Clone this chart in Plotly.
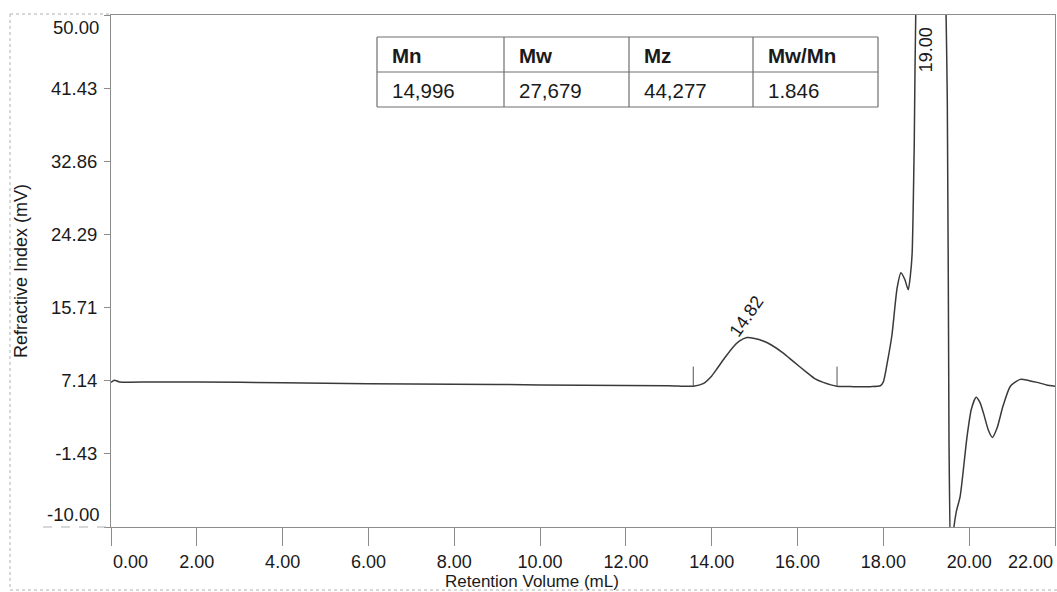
import plotly.graph_objects as go

# Refractive-index chromatogram (GPC) with molecular weight summary
ret_volume = [0.0, 0.08, 0.2, 1.0, 3.0, 5.0, 7.0, 9.0, 11.0, 13.0, 13.57,
              13.8, 14.0, 14.13, 14.3, 14.5, 14.65, 14.82, 15.0, 15.2, 15.4,
              15.66, 15.9, 16.22, 16.4, 16.6, 16.92, 17.3, 17.7, 17.93,
              18.0, 18.1, 18.2, 18.32, 18.41, 18.5, 18.58, 18.63, 18.67,
              18.72, 18.76, 18.85, 19.0, 19.25, 19.4, 19.49, 19.53, 19.57,
              19.62, 19.7, 19.79, 19.95, 20.05, 20.16, 20.25, 20.33, 20.45,
              20.54, 20.65, 20.79, 20.96, 21.19, 21.4, 21.58, 21.8, 22.0]
ri_signal = [6.95, 7.2, 7.0, 7.0, 6.95, 6.85, 6.75, 6.7, 6.6, 6.55, 6.5,
             6.8, 7.7, 8.6, 9.8, 11.1, 11.8, 12.2, 12.1, 11.8, 11.3,
             10.4, 9.4, 8.1, 7.4, 6.95, 6.5, 6.45, 6.45, 6.55,
             7.0, 9.5, 12.5, 18.0, 19.8, 19.0, 17.8, 19.5, 22.0,
             35.0, 52.0, 62.0, 70.0, 64.0, 60.0, 40.0, 0.0, -14.0,
             -11.0, -8.2, -6.4, 0.6, 3.8, 5.2, 4.6, 3.4, 1.3,
             0.5, 1.6, 4.2, 6.5, 7.3, 7.15, 6.95, 6.65, 6.5]

# Integration limits of the polymer peak
peak_bounds = [13.57, 16.92]
bound_base = [6.5, 6.5]

# Peak retention volumes shown as labels, with label heights
peak_labels = ["14.82", "19.00"]
peak_label_x = [14.82, 19.00]
peak_label_y = [14.7, 45.9]

# Molecular weight results table
table_headers = ["Mn", "Mw", "Mz", "Mw/Mn"]
table_values = ["14,996", "27,679", "44,277", "1.846"]

x_ticks = [0, 2, 4, 6, 8, 10, 12, 14, 16, 18, 20, 22]
y_ticks = [50.00, 41.43, 32.86, 24.29, 15.71, 7.14, -1.43, -10.00]

W, H = 1057, 592
L, R, T, B = 111, 1055, 15, 527
FONT = "Liberation Sans, Arial, sans-serif"
INK = "#1a1a1a"
GRID = "#8c8c8c"


def px(x):
    return (x - L) / (R - L)


def py(y):
    return (B - y) / (B - T)


fig = go.Figure()

fig.add_trace(go.Scatter(
    x=ret_volume, y=ri_signal, mode="lines",
    line=dict(color="#3a3a3a", width=1.5, shape="spline", smoothing=0.6),
    hoverinfo="skip", showlegend=False,
))

# Short vertical markers at the peak integration limits
for xb, yb in zip(peak_bounds, bound_base):
    fig.add_trace(go.Scatter(
        x=[xb, xb], y=[yb, yb + 2.3], mode="lines",
        line=dict(color="#555555", width=1),
        hoverinfo="skip", showlegend=False,
    ))

annotations = []

# Peak labels
annotations.append(dict(x=peak_label_x[0], y=peak_label_y[0], text=peak_labels[0],
                        textangle=-55, showarrow=False,
                        xanchor="center", yanchor="middle",
                        font=dict(family=FONT, size=18, color=INK)))
annotations.append(dict(x=peak_label_x[1], y=peak_label_y[1], text=peak_labels[1],
                        textangle=-90, showarrow=False,
                        xanchor="center", yanchor="middle",
                        font=dict(family=FONT, size=18, color=INK)))

# End tick labels kept inside the plot frame
annotations.append(dict(x=0, y=py(562), xref="x", yref="paper", text="0.00",
                        xanchor="left", yanchor="middle", showarrow=False,
                        font=dict(family=FONT, size=18, color=INK)))
annotations.append(dict(x=22, y=py(562), xref="x", yref="paper", text="22.00",
                        xanchor="right", yanchor="middle", showarrow=False,
                        font=dict(family=FONT, size=18, color=INK)))
annotations.append(dict(x=0, y=50, xref="paper", yref="y", text="50.00",
                        xanchor="right", yanchor="top", xshift=-10, showarrow=False,
                        font=dict(family=FONT, size=18.5, color=INK)))
annotations.append(dict(x=0, y=-10, xref="paper", yref="y", text="-10.00",
                        xanchor="right", yanchor="bottom", xshift=-10, showarrow=False,
                        font=dict(family=FONT, size=18.5, color=INK)))

# Axis titles
annotations.append(dict(x=px(532), y=py(581), xref="paper", yref="paper",
                        text="Retention Volume (mL)", showarrow=False,
                        xanchor="center", yanchor="middle", borderpad=0,
                        font=dict(family=FONT, size=17, color=INK)))
annotations.append(dict(x=px(21), y=py(271), xref="paper", yref="paper",
                        text="Refractive Index (mV)", textangle=-90, showarrow=False,
                        xanchor="center", yanchor="middle",
                        font=dict(family=FONT, size=18, color=INK)))

# Results table
col_edges = [377, 504, 629, 753, 878]
row_edges = [37, 72, 107]
shapes = []
tbl_line = dict(color="#6e6e6e", width=1.2)
for ry in row_edges:
    shapes.append(dict(type="line", xref="paper", yref="paper",
                       x0=px(col_edges[0]), x1=px(col_edges[-1]), y0=py(ry), y1=py(ry),
                       line=tbl_line))
for cx in col_edges:
    shapes.append(dict(type="line", xref="paper", yref="paper",
                       x0=px(cx), x1=px(cx), y0=py(row_edges[0]), y1=py(row_edges[-1]),
                       line=tbl_line))
for i, (hdr, val) in enumerate(zip(table_headers, table_values)):
    left = col_edges[i] + 13
    annotations.append(dict(x=px(left), y=py(55), xref="paper", yref="paper",
                            text="<b>" + hdr + "</b>", xanchor="left", yanchor="middle",
                            showarrow=False,
                            font=dict(family=FONT, size=20.5, color=INK)))
    annotations.append(dict(x=px(left), y=py(90), xref="paper", yref="paper",
                            text=val, xanchor="left", yanchor="middle", showarrow=False,
                            font=dict(family=FONT, size=20.5, color=INK)))

# Outer page frame lines
frame = dict(color="#b0b0b0", width=1, dash="dot")
shapes.append(dict(type="line", xref="paper", yref="paper",
                   x0=px(10), x1=px(10), y0=py(14), y1=py(590), line=frame))
shapes.append(dict(type="line", xref="paper", yref="paper",
                   x0=px(10), x1=px(1057), y0=py(590), y1=py(590), line=frame))
shapes.append(dict(type="line", xref="paper", yref="paper",
                   x0=px(10), x1=px(L), y0=py(14), y1=py(14), line=frame))
shapes.append(dict(type="line", xref="paper", yref="paper",
                   x0=px(43), x1=px(L), y0=py(B), y1=py(B),
                   line=dict(color="#b0b0b0", width=1, dash="dash")))

fig.update_layout(
    width=W, height=H,
    margin=dict(l=L, r=W - R, t=T, b=H - B, pad=0),
    paper_bgcolor="white", plot_bgcolor="white",
    showlegend=False,
    annotations=annotations,
    shapes=shapes,
    font=dict(family=FONT, color=INK),
)

fig.update_xaxes(
    range=[0, 22], tickvals=x_ticks,
    ticktext=["" if v in (0, 22) else f"{v:.2f}" for v in x_ticks],
    ticks="outside", ticklen=18, tickwidth=1, tickcolor=GRID,
    ticklabelstandoff=0,
    tickfont=dict(family=FONT, size=18, color=INK),
    showline=True, linecolor=GRID, linewidth=1, mirror=True,
    showgrid=False, zeroline=False,
)
fig.update_yaxes(
    range=[-10, 50], tickvals=y_ticks,
    ticktext=["" if v in (50.0, -10.0) else f"{v:.2f}" for v in y_ticks],
    ticks="outside", ticklen=6, tickwidth=1, tickcolor=GRID,
    ticklabelstandoff=3,
    tickfont=dict(family=FONT, size=18.5, color=INK),
    showline=True, linecolor=GRID, linewidth=1, mirror=True,
    showgrid=False, zeroline=False,
)

fig.write_html("out.html")
